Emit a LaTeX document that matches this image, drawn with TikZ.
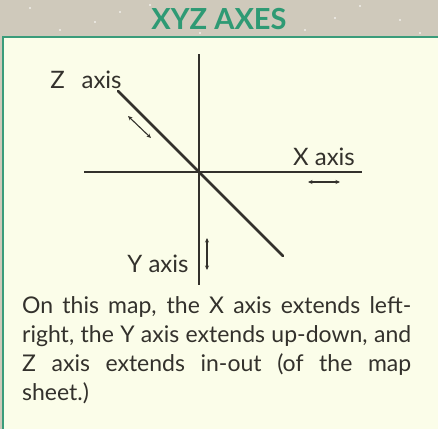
\documentclass[tikz,border=0pt]{standalone}
\usepackage{fontspec}
\setmainfont{Lato}
\usetikzlibrary{arrows.meta}
\definecolor{band}{HTML}{CFC9BB}
\definecolor{panel}{HTML}{FBFDE9}
\definecolor{frame}{HTML}{3A9C7A}
\definecolor{titlegreen}{HTML}{2E9A74}
\definecolor{ink}{HTML}{33312C}
\tikzset{
  axisline/.style={draw=ink, line width=2.4pt},
  diagline/.style={draw=ink, line width=2.8pt, line cap=round},
  dirarrow/.style={draw=ink, line width=1.1pt, {Stealth[length=4.5pt,width=4pt]}-{Stealth[length=4.5pt,width=4pt]}},
  axislabel/.style={text=ink, font=\fontsize{24}{27}\selectfont, inner sep=0pt},
}
\begin{document}
\begin{tikzpicture}[x=1pt,y=-1pt]
\useasboundingbox (0,0) rectangle (438,429);
\fill[band] (0,0) rectangle (438,429);
\fill[panel] (3,37) rectangle (438,429);
\foreach \p in {(30,8),(95,22),(150,5),(250,12),(305,30),(360,6),(400,20),(420,33),(60,30),(200,33),(120,12),(335,18)}
  \fill[white, opacity=0.7] \p circle (1.1pt);
\draw[frame, line width=2pt] (2,37) -- (438,37);
\draw[frame, line width=2pt] (3,37) -- (3,429);
\node[text=titlegreen, font=\bfseries\fontsize{29}{32}\selectfont, inner sep=0pt] (title) at (219,19) {XYZ AXES};
% axes
\coordinate (vt) at (199,54);
\coordinate (vb) at (199,285);
\coordinate (hl) at (84,172);
\coordinate (hr) at (362,172);
\coordinate (zs) at (118,91);
\coordinate (ze) at (283,256);
\draw[axisline] (vt) -- (vb);
\draw[axisline] (hl) -- (hr);
\draw[diagline] (zs) -- (ze);
% labels
\node[axislabel] (zlab) at (86,80) {Z\hspace{0.7em}axis};
\node[axislabel] (xlab) at (324,157) {X axis};
\node[axislabel] (ylab) at (158,264) {Y axis};
% direction arrows
\coordinate (za) at (128,116);
\coordinate (zb) at (151,138);
\coordinate (xa) at (308,182);
\coordinate (xb) at (340,182);
\coordinate (ya) at (207,238);
\coordinate (yb) at (207,270);
\draw[dirarrow] (za) -- (zb);
\draw[dirarrow] (xa) -- (xb);
\draw[dirarrow] (ya) -- (yb);
% paragraph
\node[text=ink, anchor=north west, inner sep=0pt, text width=389pt, align=justify,
      font=\fontsize{23}{29}\selectfont] (para) at (22,296)
 {On this map, the X axis extends left-\linebreak right, the Y axis extends up-down, and\linebreak Z axis extends in-out (of the map\linebreak sheet.)};
\end{tikzpicture}
\end{document}
